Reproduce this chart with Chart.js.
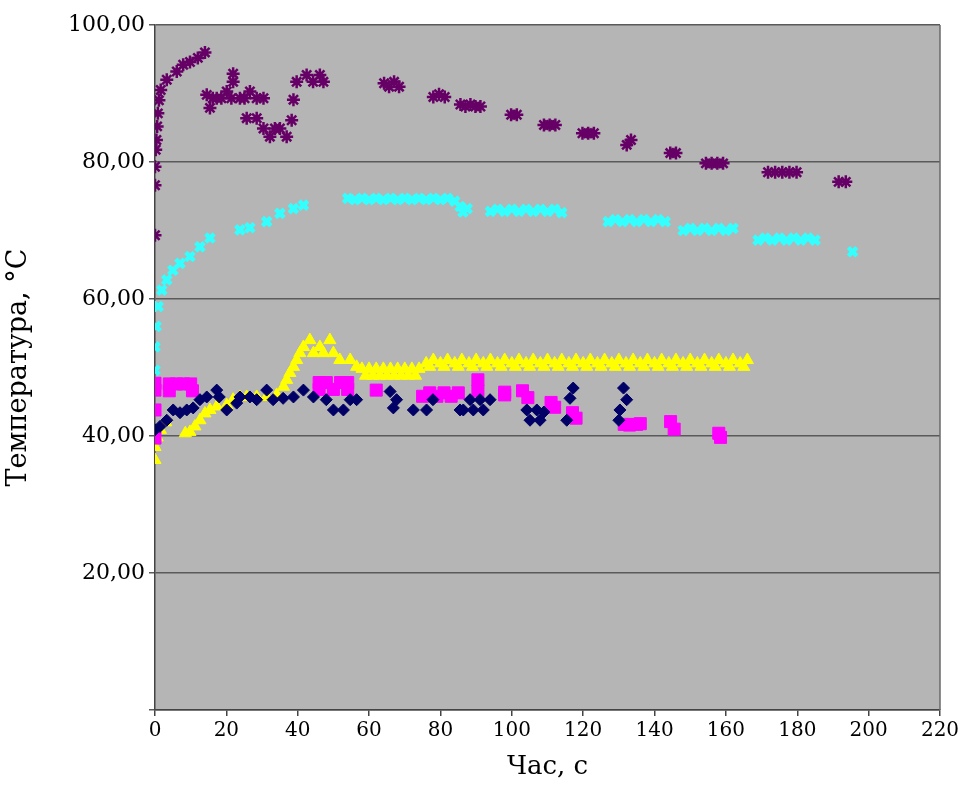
<!DOCTYPE html>
<html><head><meta charset="utf-8">
<script src="https://cdn.jsdelivr.net/npm/chart.js"></script>
<style>html,body{margin:0;padding:0;background:#fff}canvas{display:block}</style>
</head><body>
<canvas id="c" width="965" height="787"></canvas>
<script>
// ---- data ----
const xTicks = [0,20,40,60,80,100,120,140,160,180,200,220];
const yTicks = [0,20,40,60,80,100];

const navyX = [0,1.4,3.3,5.1,7,8.9,10.7,12.6,14.5,17.3,18,20.1,22.9,23.8,26.6,28.5,31.3,33.1,35.9,38.8,41.6,44.4,48,50,52.8,54.7,56.5,
  65.9,66.8,67.7,72.4,76.1,77.9,85.5,86.4,88.3,89.2,91.1,92,93.9,
  104.2,105.1,107,107.9,109,115.4,116.3,117.2,130,130.3,131.3,132.2];
const navyY = [40.9,41.4,42.3,43.8,43.4,43.8,44.1,45.3,45.7,46.7,45.7,43.8,44.8,45.7,45.7,45.3,46.7,45.3,45.5,45.7,46.7,45.7,45.3,43.8,43.8,45.3,45.3,
  46.5,44.1,45.3,43.8,43.8,45.3,43.8,43.8,45.3,43.8,45.3,43.8,45.3,
  43.8,42.3,43.8,42.3,43.5,42.3,45.5,47,42.3,43.8,47,45.3];

const magentaX = [0,0,0,0,4,4,6,8,10,10.5,46,46,48,50,52,54,54,62,75,77,79,81,83,85,90.5,90.5,98,98,103,104.5,111,112,117,118,131.5,133,135,136,144.5,145.5,158,158.5];
const magentaY = [39.7,43.8,46.7,47.7,46.6,47.6,47.6,47.6,47.6,46.6,46.8,47.8,47.8,46.8,47.8,46.8,47.8,46.7,45.8,46.3,45.8,46.3,45.8,46.3,46.6,48.2,46,46.4,46.6,45.6,44.9,44.2,43.4,42.6,41.7,41.6,41.7,41.8,42.1,41,40.4,39.8];

const yellowX = [0,0,0.6,1.5,3,8.5,9.8,11.2,12.6,14,15.4,17.3,20.1,21.9,23.8,25.7,28.5,31.3,34.1,36,36.9,37.8,38.8,39.7,40.6,41.6,43.4,44.4,46.2,47.2,49,50,51.8,54.7,56.5,
  58,60,62,64,66,68,70,72,74,59,61,63,65,67,69,71,73,
  76,78,80,82,84,86,88,90,92,94,96,98,100,102,104,106,108,110,112,114,116,118,120,122,124,126,128,130,132,134,136,138,140,142,144,146,148,150,152,154,156,158,160,162,164,166,
  77,81,85,89,93,97,101,105,109,113,117,121,125,129,133,137,141,145,149,153,157,161,165];
const yellowY = [36.5,38.4,39.8,40.9,42,40.4,40.6,41.4,42.3,43.3,43.8,44.3,44.5,45.3,45.7,45.7,45.7,45.7,46,47.2,48.2,49.2,50.1,51.1,52.1,53,54,52.1,53,52.1,54,52.1,51.1,51.1,50.1,
  49.8,49.8,49.8,49.8,49.8,49.8,49.8,49.8,49.8,48.8,48.8,48.8,48.8,48.8,48.8,48.8,48.8,
  50.6,51.1,50.6,51.1,50.6,51.1,50.6,51.1,50.6,51.1,50.6,51.1,50.6,51.1,50.6,51.1,50.6,51.1,50.6,51.1,50.6,51.1,50.6,51.1,50.6,51.1,50.6,51.1,50.6,51.1,50.6,51.1,50.6,51.1,50.6,51.1,50.6,51.1,50.6,51.1,50.6,51.1,50.6,51.1,50.6,51.1,
  50.1,50.1,50.1,50.1,50.1,50.1,50.1,50.1,50.1,50.1,50.1,50.1,50.1,50.1,50.1,50.1,50.1,50.1,50.1,50.1,50.1,50.1,50.1];

const cyanX = [0,0,0.3,0.9,1.9,3.3,5,7,9.8,12.6,15.4,23.8,26.6,31.3,35,38.8,41.6,
  54,56,58,60,62,64,66,68,70,72,74,76,78,80,82,84,85.5,86.3,87.5,
  94,96,98,100,102,104,106,108,110,112,114,
  127,129,131,133,135,137,139,141,143,
  148,150,152,154,156,158,160,162,
  169,171,173,175,177,179,181,183,185,
  195.5];
const cyanY = [49.6,53,56,58.9,61.3,62.8,64.2,65.2,66.2,67.6,68.9,70.1,70.4,71.3,72.5,73.2,73.7,
  74.7,74.5,74.7,74.5,74.7,74.5,74.7,74.5,74.7,74.5,74.7,74.5,74.7,74.5,74.7,74.3,73.5,72.7,73.2,
  72.8,73.1,72.8,73.1,72.8,73.1,72.8,73.1,72.8,73.1,72.6,
  71.3,71.6,71.3,71.6,71.3,71.6,71.3,71.6,71.3,
  70,70.3,70,70.3,70,70.3,70,70.3,
  68.6,68.9,68.6,68.9,68.6,68.9,68.6,68.9,68.6,
  66.9];

const purpleX = [0,0,0,0.2,0.4,0.6,0.8,1.1,1.6,3.3,6.1,7.9,9.8,12,14,
  14.5,15.4,16.2,17.3,18.6,20.1,21.4,21.9,21.9,23.8,25.1,26.6,28.5,30.4,25.7,28.5,30.4,32.2,33.6,35,36.9,38.3,38.8,39.7,42.5,44.3,46.2,47.2,
  64.2,65.6,67,68.4,78,79.6,81.2,85.6,87,88.4,89.8,91.2,99.8,101.4,109,110.6,112.2,119.8,121.4,123,132.2,133.4,144.4,146,154.4,156,157.6,159.2,171.8,173.8,175.8,177.8,179.8,191.6,193.6];
const purpleY = [69.3,76.6,79.3,81.8,83.2,85.2,87.1,89,90.5,92,93.2,94.2,94.6,95.2,96,
  89.8,87.9,89.3,89.3,89.3,90.3,89.3,91.7,92.9,89.3,89.3,90.3,89.3,89.3,86.4,86.4,84.9,83.7,84.9,84.9,83.7,86.1,89.1,91.7,92.7,91.7,92.7,91.7,
  91.5,91,91.7,91,89.5,89.9,89.5,88.4,88.1,88.4,88.1,88.1,86.9,86.9,85.4,85.4,85.4,84.2,84.2,84.2,82.5,83.2,81.3,81.3,79.8,79.8,79.8,79.8,78.5,78.5,78.5,78.5,78.5,77.1,77.1];

const pts = (xs, ys) => xs.map((x, i) => ({x: x, y: ys[i]}));
const FONT = "'DejaVu Serif','Liberation Serif',serif";

const bgPlugin = {
  id: 'bg',
  beforeDraw(chart) {
    const {ctx, chartArea: a} = chart;
    ctx.save();
    ctx.fillStyle = '#b5b5b5';
    ctx.fillRect(a.left, a.top, a.right - a.left, a.bottom - a.top);
    ctx.restore();
  },
  afterDatasetsDraw(chart) {
    const {ctx, chartArea: a} = chart;
    ctx.save();
    ctx.strokeStyle = '#6a6a6a';
    ctx.lineWidth = 1.5;
    ctx.beginPath();
    ctx.moveTo(a.right, a.top); ctx.lineTo(a.right, a.bottom);
    ctx.stroke();
    ctx.restore();
  }
};

new Chart(document.getElementById('c'), {
  type: 'scatter',
  data: {
    datasets: [
      {label: 'S1', data: pts(navyX, navyY), pointStyle: 'rectRot', pointRadius: 6, backgroundColor: '#000066', borderColor: '#000066', borderWidth: 1},
      {label: 'S2', data: pts(magentaX, magentaY), pointStyle: 'rect', pointRadius: 8.5, backgroundColor: '#ff00ff', borderColor: '#ff00ff', borderWidth: 1},
      {label: 'S3', data: pts(yellowX, yellowY), pointStyle: 'triangle', pointRadius: 7, backgroundColor: '#ffff00', borderColor: '#ffff00', borderWidth: 1},
      {label: 'S4', data: pts(cyanX, cyanY), pointStyle: 'crossRot', pointRadius: 6, backgroundColor: '#33ffff', borderColor: '#33ffff', borderWidth: 4.5},
      {label: 'S5', data: pts(purpleX, purpleY), pointStyle: 'star', pointRadius: 6.5, backgroundColor: '#660066', borderColor: '#660066', borderWidth: 2.5}
    ]
  },
  options: {
    responsive: false,
    animation: false,
    layout: {padding: {top: 25, right: 25, left: 0, bottom: 0}},
    plugins: {legend: {display: false}, tooltip: {enabled: false}},
    scales: {
      x: {
        type: 'linear', min: 0, max: 220,
        afterBuildTicks(s) { s.ticks = xTicks.map(v => ({value: v})); },
        afterFit(s) { s.height = 77; },
        ticks: {font: {family: FONT, size: 20}, color: '#000', padding: 3, maxRotation: 0, autoSkip: false},
        grid: {display: true, drawOnChartArea: false, drawTicks: true, tickLength: 6, color: '#444', lineWidth: 1.5},
        border: {display: true, color: '#444', width: 1.5},
        title: {display: true, text: 'Час, с', font: {family: FONT, size: 26}, color: '#000', padding: {top: 0, bottom: 4}}
      },
      y: {
        min: 0, max: 100,
        afterBuildTicks(s) { s.ticks = yTicks.map(v => ({value: v})); },
        afterFit(s) { s.width = 155; },
        ticks: {font: {family: FONT, size: 22}, color: '#000', padding: 4,
          callback: v => v === 0 ? '' : v.toFixed(2).replace('.', ',')},
        grid: {color: '#5a5a5a', lineWidth: 1.5, tickLength: 6},
        border: {display: true, color: '#444', width: 1.5},
        title: {display: true, text: 'Температура, °C', font: {family: FONT, size: 27}, color: '#000', padding: {top: 3, bottom: 0}}
      }
    }
  },
  plugins: [bgPlugin]
});
</script>
</body></html>
